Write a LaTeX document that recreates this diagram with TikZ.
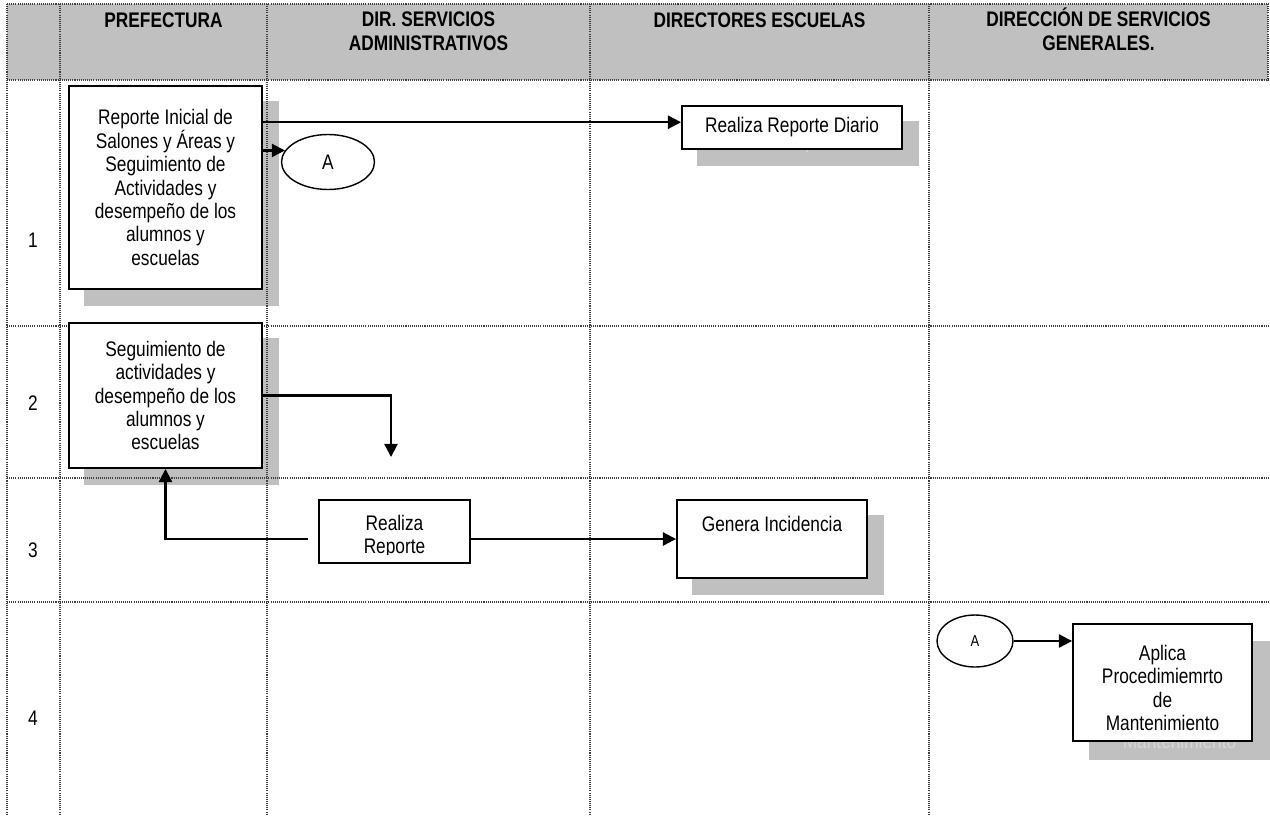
\documentclass[tikz,border=0pt]{standalone}
\usepackage{fontspec}
\setmainfont{Liberation Sans}[FakeStretch=0.82]
\usetikzlibrary{arrows.meta,shapes.geometric}
\definecolor{headgray}{RGB}{192,192,192}
\definecolor{ghostgray}{RGB}{214,214,214}
\tikzset{
  every node/.style={font=\fontsize{12}{13.3}\selectfont, inner sep=0pt},
  laneline/.style={black!75, line width=0.6pt, dash pattern=on 0.6pt off 0.6pt},
  head/.style={font=\fontsize{12}{13.3}\selectfont\bfseries, align=center, anchor=base},
  stepbox/.style={draw, fill=white, line width=1.1pt, align=center},
  shadowbox/.style={fill=headgray, draw=headgray, line width=1.1pt, text=ghostgray, align=center},
  conn/.style={ellipse, draw, line width=0.8pt},
  flow/.style={line width=1.2pt, -{Triangle[length=7.5pt,width=7.5pt]}}
}
\begin{document}
\begin{tikzpicture}[x=0.02cm,y=-0.02cm]
	\useasboundingbox (0,0) rectangle (1270,815);
	% header band
	\fill[headgray] (7,4) rectangle (1268,80);
	% shadows
	\node[shadowbox, minimum width=3.86cm, minimum height=4.06cm] (repS) at (181.5,203.5) {};
	\node[shadowbox, minimum width=3.86cm, minimum height=2.9cm] (segS) at (181.5,411.5) {};
	\node[shadowbox, minimum width=4.4cm, minimum height=0.86cm] (diarioS) at (808,143.5) {Realiza Reporte Diario};
	\node[shadowbox, minimum width=3.8cm, minimum height=1.56cm] (genS) at (788,555) {};
	\node[shadowbox, minimum width=3.58cm, minimum height=2.34cm] (aplS) at (1179.5,700.5) {\rule{0pt}{15pt}Aplica\\Procedimiemrto\\de\\Mantenimiento};
	% lanes and rows
	\foreach \x in {7,60,267,590,929}
		\draw[laneline] (\x,4) -- (\x,815);
	\draw[laneline] (1268,4) -- (1268,80);
	\foreach \y in {4,80,326,478,602}
		\draw[laneline] (7,\y) -- (1268,\y);
	% base of a two-line head is its last line
	\node[head] (h1) at (163.5,27) {PREFECTURA};
	\node[head] (h2) at (428.5,50) {DIR. SERVICIOS\\ADMINISTRATIVOS};
	\node[head] (h3) at (759.5,27) {DIRECTORES ESCUELAS};
	\node[head] (h4) at (1098.5,50) {DIRECCIÓN DE SERVICIOS\\GENERALES.};
	\node (r1) at (33,240) {1};
	\node (r2) at (33,403) {2};
	\node (r3) at (33,550) {3};
	\node (r4) at (33,718) {4};
	% steps
	\node[stepbox, minimum width=3.86cm, minimum height=4.06cm] (rep) at (165.5,187.5) {Reporte Inicial de\\Salones y Áreas y\\Seguimiento de\\Actividades y\\desempeño de los\\alumnos y\\escuelas};
	\node[stepbox, minimum width=3.86cm, minimum height=2.9cm] (seg) at (165.5,395.5) {Seguimiento de\\actividades y\\desempeño de los\\alumnos y\\escuelas};
	\node[stepbox, minimum width=4.4cm, minimum height=0.86cm] (diario) at (792,127.5) {Realiza Reporte Diario};
	\node[stepbox, minimum width=3.8cm, minimum height=1.56cm] (gen) at (772,539) {Genera Incidencia\\\strut};
	\node[stepbox, minimum width=3.58cm, minimum height=2.34cm] (apl) at (1162.5,682.5) {\rule{0pt}{15pt}Aplica\\Procedimiemrto\\de\\Mantenimiento};
	\node[stepbox, line width=0.8pt, minimum width=3.02cm, minimum height=1.26cm] (rr) at (394.5,531.5) {};
	\begin{scope}
		\clip (rr.north west) rectangle ([yshift=5.1pt]rr.south east);
		\node[align=center] (rrtext) at ([yshift=-2.8pt]rr.center) {Realiza\\Reporte};
	\end{scope}
	\node[conn, minimum width=1.86cm, minimum height=1.1cm] (a1) at (328,162) {A};
	\node[conn, minimum width=1.52cm, minimum height=1.04cm, font=\fontsize{9}{10}\selectfont] (a2) at (975,641) {A};
	% connectors
	\coordinate (d1) at ([yshift=3pt]diario.west);
	\draw[flow] (rep.east |- d1) -- (d1);
	\draw[flow] (rep.east |- a1.165) -- (a1.165);
	\coordinate (drop) at (391,457);
	\draw[flow] (seg.east) -| (drop);
	\coordinate (back) at (308,539);
	\draw[flow] (back) -| (seg.south);
	\draw[flow] (rr.east |- gen.west) -- (gen.west);
	\draw[flow] (a2.east) -- (a2.east -| apl.west);
\end{tikzpicture}
\end{document}
